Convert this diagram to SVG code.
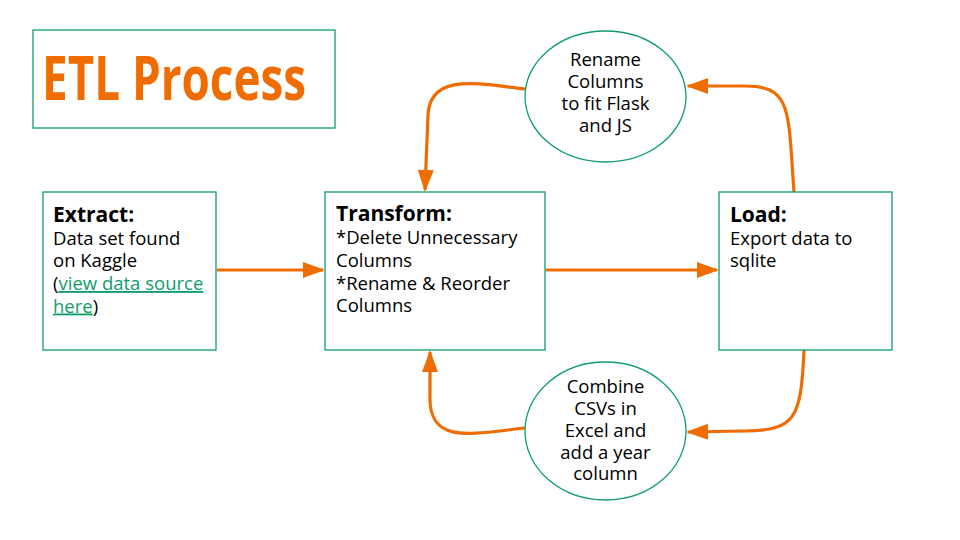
<svg xmlns="http://www.w3.org/2000/svg" width="960" height="540" viewBox="0 0 960 540">
<style>
.box{fill:#fff;stroke:#0f9d6a;stroke-width:1.3}
.t{font-family:"Open Sans","Noto Sans",sans-serif;font-size:18.5px;fill:#000}
.b{font-weight:bold;font-size:21px}
.c{text-anchor:middle}
.lk{fill:#0f9d6a;text-decoration:underline}
.con{fill:none;stroke:#ef6c00;stroke-width:3.2}
</style>
<defs>
<marker id="ah" markerUnits="userSpaceOnUse" markerWidth="26" markerHeight="26" refX="22" refY="13" orient="auto" viewBox="0 0 26 26">
<path d="M2 5 L24 13 L2 21 Z" fill="#ef6c00"/>
</marker>
</defs>
<rect width="960" height="540" fill="#fff"/>
<g id="title">
<rect class="box" x="33" y="30" width="302" height="98"/>
<text x="42" y="100" font-family="'Open Sans','Noto Sans',sans-serif" font-weight="bold" font-size="60" fill="#ef6c00" textLength="264" lengthAdjust="spacingAndGlyphs">ETL Process</text>
</g>
<g id="connectors">
<path class="con" d="M217 270 L323 270" marker-end="url(#ah)"/>
<path class="con" d="M546 270 L717 270" marker-end="url(#ah)"/>
<path class="con" d="M794 192 C788 110 792 86 745 86 L688 86" marker-end="url(#ah)"/>
<path class="con" d="M525 89 C480 84 430 72 428 115 L425 190" marker-end="url(#ah)"/>
<path class="con" d="M804 350 C801 420 795 430 745 431 L688 432" marker-end="url(#ah)"/>
<path class="con" d="M525 428 C470 434 428 445 430 395 L430 352" marker-end="url(#ah)"/>
</g>
<g id="extract">
<rect class="box" x="43" y="192" width="173" height="158"/>
<text class="t" x="53"><tspan class="b" x="53" y="222">Extract:</tspan><tspan x="53" y="244.5">Data set found</tspan><tspan x="53" y="267">on Kaggle</tspan><tspan x="53" y="290">(<tspan class="lk">view data source</tspan></tspan><tspan x="53" y="312.5"><tspan class="lk">here</tspan>)</tspan></text>
</g>
<g id="transform">
<rect class="box" x="325" y="192" width="220" height="158"/>
<text class="t"><tspan class="b" x="336" y="221">Transform:</tspan><tspan x="336" y="244">*Delete Unnecessary</tspan><tspan x="336" y="267">Columns</tspan><tspan x="336" y="289.5">*Rename &amp; Reorder</tspan><tspan x="336" y="312">Columns</tspan></text>
</g>
<g id="load">
<rect class="box" x="719" y="192" width="173" height="158"/>
<text class="t"><tspan class="b" x="730" y="222">Load:</tspan><tspan x="730" y="244.5">Export data to</tspan><tspan x="730" y="266.5">sqlite</tspan></text>
</g>
<g id="rename">
<ellipse class="box" cx="605.5" cy="96.5" rx="80.5" ry="65.5"/>
<text class="t c"><tspan x="605.5" y="66">Rename</tspan><tspan x="605.5" y="88">Columns</tspan><tspan x="605.5" y="110">to fit Flask</tspan><tspan x="605.5" y="132">and JS</tspan></text>
</g>
<g id="combine">
<ellipse class="box" cx="605.5" cy="431" rx="80.5" ry="69"/>
<text class="t c"><tspan x="605.5" y="393">Combine</tspan><tspan x="605.5" y="415">CSVs in</tspan><tspan x="605.5" y="437">Excel and</tspan><tspan x="605.5" y="458.5">add a year</tspan><tspan x="605.5" y="480">column</tspan></text>
</g>
</svg>
